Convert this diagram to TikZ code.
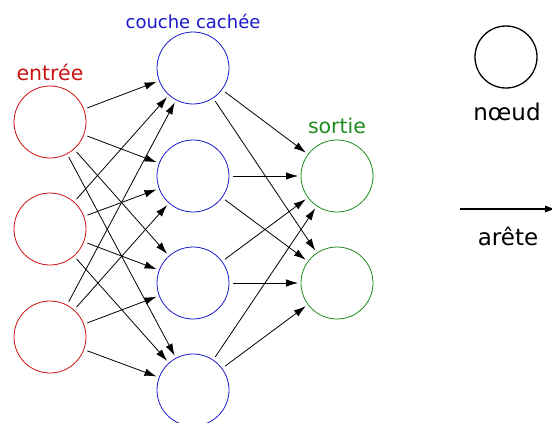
\documentclass[tikz,border=0pt]{standalone}
\usepackage{fontspec}
\setmainfont{DejaVu Sans}
\usetikzlibrary{arrows.meta}
\definecolor{inred}{HTML}{CC1111}
\definecolor{hidblue}{HTML}{1A1ACC}
\definecolor{outgreen}{HTML}{1E8C1E}
\tikzset{
  neuron/.style={circle, draw, line width=0.8pt, minimum size=72pt, inner sep=0pt},
  innode/.style={neuron, draw=inred},
  hidnode/.style={neuron, draw=hidblue},
  outnode/.style={neuron, draw=outgreen},
  conn/.style={-{Latex[length=12pt,width=7.5pt]}, line width=0.8pt, shorten <=3.5pt, shorten >=2.5pt},
}
\begin{document}
\begin{tikzpicture}[x=1pt,y=-1pt]
\useasboundingbox (0,0) rectangle (552,423);
% input
\node[innode] (i1) at (50,122) {};
\node[innode] (i2) at (50,229) {};
\node[innode] (i3) at (50,337) {};
% hidden
\node[hidnode] (h1) at (193,68) {};
\node[hidnode] (h2) at (193,176) {};
\node[hidnode] (h3) at (193,283) {};
\node[hidnode] (h4) at (193,390) {};
% output
\node[outnode] (o1) at (337,176) {};
\node[outnode] (o2) at (337,283) {};
% labels
\node[text=inred, font=\fontsize{20.5pt}{24pt}\selectfont] (lin) at (50,72) {entrée};
\node[text=hidblue, font=\fontsize{18pt}{21pt}\selectfont] (lhid) at (193,21) {couche cachée};
\node[text=outgreen, font=\fontsize{20.5pt}{24pt}\selectfont] (lout) at (337,126) {sortie};
% connections
\foreach \i in {1,2,3}{
  \foreach \h in {1,2,3,4}{
    \draw[conn] (i\i) -- (h\h);
  }
}
\foreach \h in {1,2,3,4}{
  \foreach \o in {1,2}{
    \draw[conn] (h\h) -- (o\o);
  }
}
% legend
\node[neuron, draw=black, minimum size=62pt, line width=1.3pt] (leg) at (506,57) {};
\node[font=\fontsize{23pt}{27pt}\selectfont] (lnode) at (507,112) {nœud};
\coordinate (ea) at (460,209);
\coordinate (eb) at (556,209);
\draw[-{Latex[length=11pt,width=7pt]}, line width=1.1pt] (ea) -- (eb);
\node[font=\fontsize{23pt}{27pt}\selectfont] (ledge) at (508,236) {arête};
\end{tikzpicture}
\end{document}
